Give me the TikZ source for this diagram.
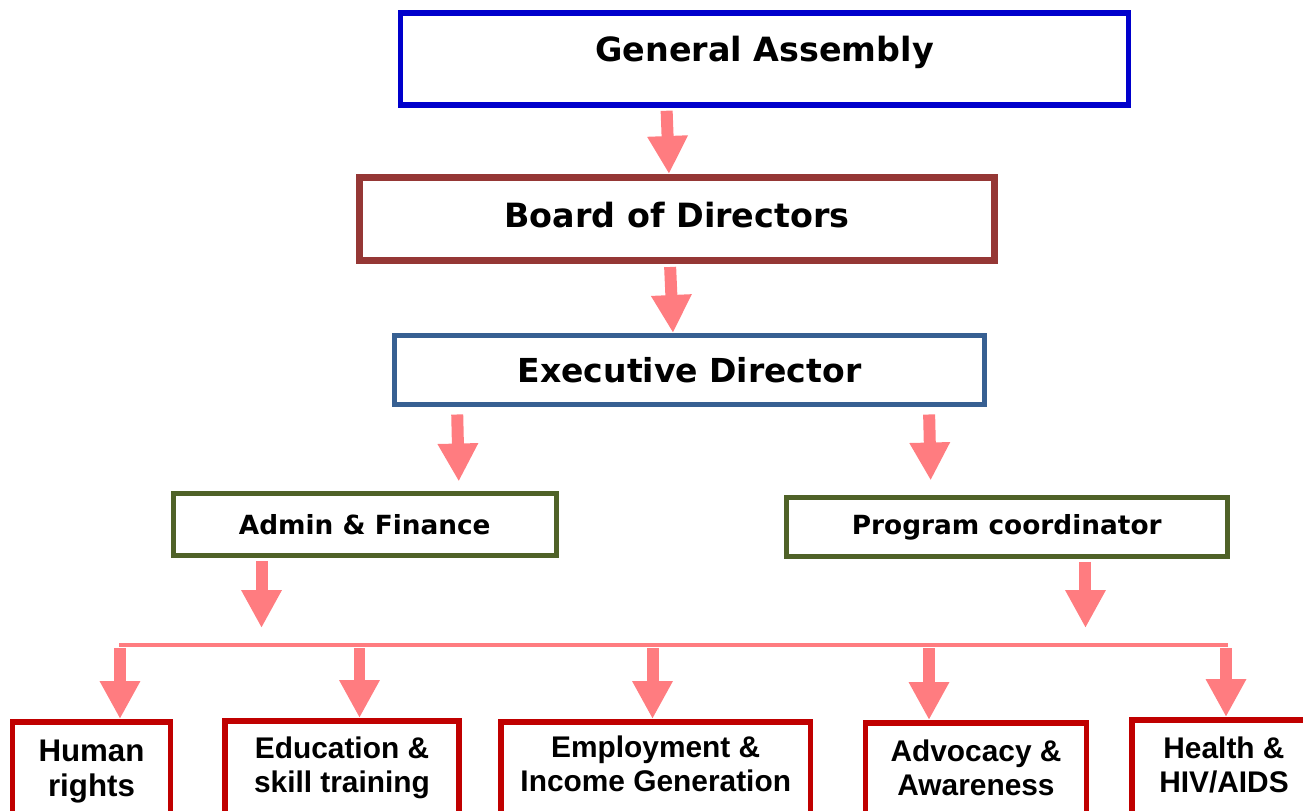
\documentclass[tikz,border=0pt]{standalone}
\usepackage{fontspec}
\setmainfont{Liberation Sans}
\newfontfamily\titlefont{DejaVu Sans}
\usetikzlibrary{arrows.meta,positioning}

\definecolor{assemblyblue}{RGB}{0,0,204}
\definecolor{boardred}{RGB}{149,55,53}
\definecolor{execblue}{RGB}{55,96,146}
\definecolor{deptgreen}{RGB}{79,98,40}
\definecolor{unitred}{RGB}{192,0,0}
\definecolor{arrowpink}{RGB}{255,124,128}

\tikzstyle{orgbox} = [rectangle, fill=white, inner sep=0pt,
  font=\titlefont\bfseries]
\tikzstyle{assembly} = [orgbox, draw=assemblyblue, line width=0.11cm,
  minimum width=14.56cm, minimum height=1.84cm, text depth=0.4cm]
\tikzstyle{board} = [orgbox, draw=boardred, line width=0.13cm,
  minimum width=12.71cm, minimum height=1.67cm, text depth=0.16cm]
\tikzstyle{executive} = [orgbox, draw=execblue, line width=0.1cm,
  minimum width=11.8cm, minimum height=1.38cm]
\tikzstyle{dept} = [orgbox, draw=deptgreen, line width=0.1cm,
  minimum height=1.25cm, font=\titlefont\bfseries\fontsize{15}{18}\selectfont]
\tikzstyle{unit} = [rectangle, draw=unitred, fill=white, line width=0.11cm,
  anchor=north, minimum height=3cm]
\tikzstyle{unittext} = [inner sep=0pt, align=center,
  font=\bfseries\fontsize{17}{19}\selectfont]
\tikzstyle{flow} = [draw=arrowpink, line width=0.24cm, shorten <=0.06cm,
  -{Triangle[width=0.76cm,length=0.76cm]}]
\tikzstyle{busline} = [draw=arrowpink, line width=0.08cm]

\begin{document}
\begin{tikzpicture}[x=0.02cm,y=-0.02cm]
        \useasboundingbox (0,0) rectangle (1303,811);
        \clip (0,0) rectangle (1303,811);

        % management chain
        \node [assembly]  (ga)    at (764.5,59)  {\fontsize{19}{23}\selectfont General Assembly};
        \node [board]     (bod)   at (677,219)   {\fontsize{19}{23}\selectfont Board of Directors};
        \node [executive] (exec)  at (689.5,370) {\fontsize{18.8}{22}\selectfont Executive Director};
        \node [dept, minimum width=7.67cm] (admin) at (364.75,524.25) {Admin \& Finance};
        \node [dept, minimum width=8.83cm, minimum height=1.18cm] (prog) at (1006.75,527) {Program coordinator};

        % programme units
        \node [unit, minimum width=3.16cm] (hr)  at (91.5,719)  {};
        \node [unit, minimum width=4.68cm] (edu) at (342,718)   {};
        \node [unit, minimum width=6.19cm] (emp) at (655.75,719) {};
        \node [unit, minimum width=4.42cm] (adv) at (976,720)   {};
        \node [unit, minimum width=3.68cm] (hiv) at (1224,717)  {};

        \node [unittext, below=0.42cm of hr.north, font=\bfseries\fontsize{17.8}{19.5}\selectfont]
          (hrtext)  {Human\\rights};
        \node [unittext, below=0.38cm of edu.north] (edutext) {Education \&\\skill training};
        \node [unittext, below=0.34cm of emp.north] (emptext) {Employment \&\\Income Generation};
        \node [unittext, below=0.40cm of adv.north] (advtext) {Advocacy \&\\Awareness};
        \node [unittext, below=0.40cm of hiv.north] (hivtext) {Health \&\\HIV/AIDS};

        \coordinate (busL) at (119,645);
        \coordinate (busR) at (1228,645);
        \draw[busline] (busL) -- (busR);

        \draw[flow] ([xshift=-1.96cm]ga.south) -- ([xshift=-0.16cm]bod.north);
        \draw[flow] ([xshift=-0.14cm]bod.south) -- ([xshift=-0.33cm]exec.north);
        \draw[flow, shorten <=0.15cm, shorten >=0.18cm]
          ([xshift=-4.65cm]exec.south) -- ([xshift=1.885cm]admin.north);
        \draw[flow, shorten <=0.15cm, shorten >=0.29cm]
          ([xshift=4.79cm]exec.south) -- ([xshift=-1.515cm]prog.north);
        \draw[flow, shorten >=0.34cm]
          ([xshift=-2.065cm]admin.south) -- ([xshift=-2.065cm]admin.south |- busL);
        \draw[flow, shorten >=0.34cm]
          ([xshift=1.575cm]prog.south) -- ([xshift=1.575cm]prog.south |- busL);

        \draw[flow] ([xshift=0.57cm]hr.north |- busL)   -- ([xshift=0.57cm]hr.north);
        \draw[flow] ([xshift=0.35cm]edu.north |- busL)  -- ([xshift=0.35cm]edu.north);
        \draw[flow] ([xshift=-0.065cm]emp.north |- busL) -- ([xshift=-0.065cm]emp.north);
        \draw[flow] ([xshift=-0.94cm]adv.north |- busL) -- ([xshift=-0.94cm]adv.north);
        \draw[flow] ([xshift=0.04cm]hiv.north |- busL)  -- ([xshift=0.04cm]hiv.north);
      \end{tikzpicture}
\end{document}
